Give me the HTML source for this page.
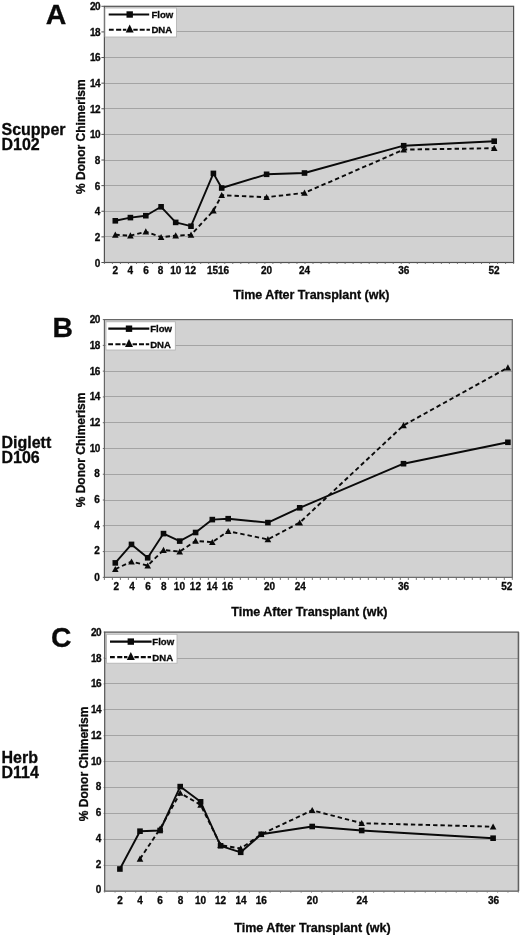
<!DOCTYPE html>
<html><head><meta charset="utf-8"><title>Donor chimerism</title>
<style>
html,body{margin:0;padding:0;background:#fff;}
svg{display:block;}
text{font-family:"Liberation Sans",sans-serif;font-weight:bold;fill:#0a0a0a;stroke:#0a0a0a;stroke-width:0.3px;}
</style></head><body>
<div style="will-change:transform;width:520px;height:935px"><svg width="520" height="935" viewBox="0 0 520 935">
<rect width="520" height="935" fill="#fff"/>
<g>
<rect x="104.4" y="6.3" width="409.20000000000005" height="256.2" fill="#d2d2d2"/>
<line x1="104.4" x2="513.6" y1="31.50" y2="31.50" stroke="#a4a4a4" stroke-width="1"/>
<line x1="104.4" x2="513.6" y1="57.50" y2="57.50" stroke="#a4a4a4" stroke-width="1"/>
<line x1="104.4" x2="513.6" y1="83.50" y2="83.50" stroke="#a4a4a4" stroke-width="1"/>
<line x1="104.4" x2="513.6" y1="108.50" y2="108.50" stroke="#a4a4a4" stroke-width="1"/>
<line x1="104.4" x2="513.6" y1="134.50" y2="134.50" stroke="#a4a4a4" stroke-width="1"/>
<line x1="104.4" x2="513.6" y1="160.50" y2="160.50" stroke="#a4a4a4" stroke-width="1"/>
<line x1="104.4" x2="513.6" y1="185.50" y2="185.50" stroke="#a4a4a4" stroke-width="1"/>
<line x1="104.4" x2="513.6" y1="211.50" y2="211.50" stroke="#a4a4a4" stroke-width="1"/>
<line x1="104.4" x2="513.6" y1="236.50" y2="236.50" stroke="#a4a4a4" stroke-width="1"/>
<rect x="104.4" y="6.3" width="409.20000000000005" height="256.2" fill="none" stroke="#525252" stroke-width="1.2"/>
<line x1="101.4" x2="104.4" y1="6.30" y2="6.30" stroke="#525252" stroke-width="1"/>
<text x="100.2" y="10.20" text-anchor="end" font-size="10" letter-spacing="-0.5">20</text>
<line x1="101.4" x2="104.4" y1="31.92" y2="31.92" stroke="#525252" stroke-width="1"/>
<text x="100.2" y="35.82" text-anchor="end" font-size="10" letter-spacing="-0.5">18</text>
<line x1="101.4" x2="104.4" y1="57.54" y2="57.54" stroke="#525252" stroke-width="1"/>
<text x="100.2" y="61.44" text-anchor="end" font-size="10" letter-spacing="-0.5">16</text>
<line x1="101.4" x2="104.4" y1="83.16" y2="83.16" stroke="#525252" stroke-width="1"/>
<text x="100.2" y="87.06" text-anchor="end" font-size="10" letter-spacing="-0.5">14</text>
<line x1="101.4" x2="104.4" y1="108.78" y2="108.78" stroke="#525252" stroke-width="1"/>
<text x="100.2" y="112.68" text-anchor="end" font-size="10" letter-spacing="-0.5">12</text>
<line x1="101.4" x2="104.4" y1="134.40" y2="134.40" stroke="#525252" stroke-width="1"/>
<text x="100.2" y="138.30" text-anchor="end" font-size="10" letter-spacing="-0.5">10</text>
<line x1="101.4" x2="104.4" y1="160.02" y2="160.02" stroke="#525252" stroke-width="1"/>
<text x="100.2" y="163.92" text-anchor="end" font-size="10">8</text>
<line x1="101.4" x2="104.4" y1="185.64" y2="185.64" stroke="#525252" stroke-width="1"/>
<text x="100.2" y="189.54" text-anchor="end" font-size="10">6</text>
<line x1="101.4" x2="104.4" y1="211.26" y2="211.26" stroke="#525252" stroke-width="1"/>
<text x="100.2" y="215.16" text-anchor="end" font-size="10">4</text>
<line x1="101.4" x2="104.4" y1="236.88" y2="236.88" stroke="#525252" stroke-width="1"/>
<text x="100.2" y="240.78" text-anchor="end" font-size="10">2</text>
<line x1="101.4" x2="104.4" y1="262.50" y2="262.50" stroke="#525252" stroke-width="1"/>
<text x="100.2" y="267.30" text-anchor="end" font-size="10">0</text>
<line x1="104.40" x2="104.40" y1="262.5" y2="264.0" stroke="#6a6a6a" stroke-width="0.9"/>
<line x1="112.42" x2="112.42" y1="262.5" y2="264.0" stroke="#6a6a6a" stroke-width="0.9"/>
<line x1="120.45" x2="120.45" y1="262.5" y2="264.0" stroke="#6a6a6a" stroke-width="0.9"/>
<line x1="128.47" x2="128.47" y1="262.5" y2="264.0" stroke="#6a6a6a" stroke-width="0.9"/>
<line x1="136.49" x2="136.49" y1="262.5" y2="264.0" stroke="#6a6a6a" stroke-width="0.9"/>
<line x1="144.52" x2="144.52" y1="262.5" y2="264.0" stroke="#6a6a6a" stroke-width="0.9"/>
<line x1="152.54" x2="152.54" y1="262.5" y2="264.0" stroke="#6a6a6a" stroke-width="0.9"/>
<line x1="160.56" x2="160.56" y1="262.5" y2="264.0" stroke="#6a6a6a" stroke-width="0.9"/>
<line x1="168.59" x2="168.59" y1="262.5" y2="264.0" stroke="#6a6a6a" stroke-width="0.9"/>
<line x1="176.61" x2="176.61" y1="262.5" y2="264.0" stroke="#6a6a6a" stroke-width="0.9"/>
<line x1="184.64" x2="184.64" y1="262.5" y2="264.0" stroke="#6a6a6a" stroke-width="0.9"/>
<line x1="192.66" x2="192.66" y1="262.5" y2="264.0" stroke="#6a6a6a" stroke-width="0.9"/>
<line x1="200.68" x2="200.68" y1="262.5" y2="264.0" stroke="#6a6a6a" stroke-width="0.9"/>
<line x1="208.71" x2="208.71" y1="262.5" y2="264.0" stroke="#6a6a6a" stroke-width="0.9"/>
<line x1="216.73" x2="216.73" y1="262.5" y2="264.0" stroke="#6a6a6a" stroke-width="0.9"/>
<line x1="224.75" x2="224.75" y1="262.5" y2="264.0" stroke="#6a6a6a" stroke-width="0.9"/>
<line x1="232.78" x2="232.78" y1="262.5" y2="264.0" stroke="#6a6a6a" stroke-width="0.9"/>
<line x1="240.80" x2="240.80" y1="262.5" y2="264.0" stroke="#6a6a6a" stroke-width="0.9"/>
<line x1="248.82" x2="248.82" y1="262.5" y2="264.0" stroke="#6a6a6a" stroke-width="0.9"/>
<line x1="256.85" x2="256.85" y1="262.5" y2="264.0" stroke="#6a6a6a" stroke-width="0.9"/>
<line x1="264.87" x2="264.87" y1="262.5" y2="264.0" stroke="#6a6a6a" stroke-width="0.9"/>
<line x1="272.89" x2="272.89" y1="262.5" y2="264.0" stroke="#6a6a6a" stroke-width="0.9"/>
<line x1="280.92" x2="280.92" y1="262.5" y2="264.0" stroke="#6a6a6a" stroke-width="0.9"/>
<line x1="288.94" x2="288.94" y1="262.5" y2="264.0" stroke="#6a6a6a" stroke-width="0.9"/>
<line x1="296.96" x2="296.96" y1="262.5" y2="264.0" stroke="#6a6a6a" stroke-width="0.9"/>
<line x1="304.99" x2="304.99" y1="262.5" y2="264.0" stroke="#6a6a6a" stroke-width="0.9"/>
<line x1="313.01" x2="313.01" y1="262.5" y2="264.0" stroke="#6a6a6a" stroke-width="0.9"/>
<line x1="321.04" x2="321.04" y1="262.5" y2="264.0" stroke="#6a6a6a" stroke-width="0.9"/>
<line x1="329.06" x2="329.06" y1="262.5" y2="264.0" stroke="#6a6a6a" stroke-width="0.9"/>
<line x1="337.08" x2="337.08" y1="262.5" y2="264.0" stroke="#6a6a6a" stroke-width="0.9"/>
<line x1="345.11" x2="345.11" y1="262.5" y2="264.0" stroke="#6a6a6a" stroke-width="0.9"/>
<line x1="353.13" x2="353.13" y1="262.5" y2="264.0" stroke="#6a6a6a" stroke-width="0.9"/>
<line x1="361.15" x2="361.15" y1="262.5" y2="264.0" stroke="#6a6a6a" stroke-width="0.9"/>
<line x1="369.18" x2="369.18" y1="262.5" y2="264.0" stroke="#6a6a6a" stroke-width="0.9"/>
<line x1="377.20" x2="377.20" y1="262.5" y2="264.0" stroke="#6a6a6a" stroke-width="0.9"/>
<line x1="385.22" x2="385.22" y1="262.5" y2="264.0" stroke="#6a6a6a" stroke-width="0.9"/>
<line x1="393.25" x2="393.25" y1="262.5" y2="264.0" stroke="#6a6a6a" stroke-width="0.9"/>
<line x1="401.27" x2="401.27" y1="262.5" y2="264.0" stroke="#6a6a6a" stroke-width="0.9"/>
<line x1="409.29" x2="409.29" y1="262.5" y2="264.0" stroke="#6a6a6a" stroke-width="0.9"/>
<line x1="417.32" x2="417.32" y1="262.5" y2="264.0" stroke="#6a6a6a" stroke-width="0.9"/>
<line x1="425.34" x2="425.34" y1="262.5" y2="264.0" stroke="#6a6a6a" stroke-width="0.9"/>
<line x1="433.36" x2="433.36" y1="262.5" y2="264.0" stroke="#6a6a6a" stroke-width="0.9"/>
<line x1="441.39" x2="441.39" y1="262.5" y2="264.0" stroke="#6a6a6a" stroke-width="0.9"/>
<line x1="449.41" x2="449.41" y1="262.5" y2="264.0" stroke="#6a6a6a" stroke-width="0.9"/>
<line x1="457.44" x2="457.44" y1="262.5" y2="264.0" stroke="#6a6a6a" stroke-width="0.9"/>
<line x1="465.46" x2="465.46" y1="262.5" y2="264.0" stroke="#6a6a6a" stroke-width="0.9"/>
<line x1="473.48" x2="473.48" y1="262.5" y2="264.0" stroke="#6a6a6a" stroke-width="0.9"/>
<line x1="481.51" x2="481.51" y1="262.5" y2="264.0" stroke="#6a6a6a" stroke-width="0.9"/>
<line x1="489.53" x2="489.53" y1="262.5" y2="264.0" stroke="#6a6a6a" stroke-width="0.9"/>
<line x1="497.55" x2="497.55" y1="262.5" y2="264.0" stroke="#6a6a6a" stroke-width="0.9"/>
<line x1="505.58" x2="505.58" y1="262.5" y2="264.0" stroke="#6a6a6a" stroke-width="0.9"/>
<line x1="513.60" x2="513.60" y1="262.5" y2="264.0" stroke="#6a6a6a" stroke-width="0.9"/>
<text x="115.3" y="273.8" text-anchor="middle" font-size="10">2</text>
<text x="130.2" y="273.8" text-anchor="middle" font-size="10">4</text>
<text x="146" y="273.8" text-anchor="middle" font-size="10">6</text>
<text x="160.5" y="273.8" text-anchor="middle" font-size="10">8</text>
<text x="175.8" y="273.8" text-anchor="middle" font-size="10">10</text>
<text x="190.6" y="273.8" text-anchor="middle" font-size="10">12</text>
<text x="212.6" y="273.8" text-anchor="middle" font-size="10">15</text>
<text x="223.6" y="273.8" text-anchor="middle" font-size="10">16</text>
<text x="266.6" y="273.8" text-anchor="middle" font-size="10">20</text>
<text x="304.5" y="273.8" text-anchor="middle" font-size="10">24</text>
<text x="403.7" y="273.8" text-anchor="middle" font-size="10">36</text>
<text x="494" y="273.8" text-anchor="middle" font-size="10">52</text>
<text transform="translate(85 136.7) rotate(-90)" text-anchor="middle" font-size="12">% Donor Chimerism</text>
<text x="311.4" y="299.3" text-anchor="middle" font-size="12.5">Time After Transplant (wk)</text>
<text x="45.8" y="23.7" font-size="28.5">A</text>
<text x="1.5" y="134.6" font-size="16">Scupper</text>
<text x="1.5" y="149.9" font-size="16">D102</text>
<polyline points="115.3,234.8 130.4,235.7 145.8,231.7 161.1,237.2 175.7,235.7 191.0,234.8 213.4,210.7 221.7,195.2 266.6,197.2 304.5,192.9 403.7,149.6 494.2,148.2" fill="none" stroke="#0a0a0a" stroke-width="1.9" stroke-dasharray="4.4 3"/>
<polyline points="115.3,220.8 130.4,217.6 145.8,215.7 161.1,206.8 175.7,222.4 191.0,226.2 213.4,173.4 221.7,188.0 266.6,174.3 304.5,173.0 403.7,145.7 494.2,141.2" fill="none" stroke="#0a0a0a" stroke-width="1.9" stroke-linejoin="round"/>
<path d="M115.3 231.5L118.6 237.7L112.0 237.7Z" fill="#0a0a0a"/>
<path d="M130.4 232.3L133.7 238.5L127.1 238.5Z" fill="#0a0a0a"/>
<path d="M145.8 228.3L149.1 234.5L142.5 234.5Z" fill="#0a0a0a"/>
<path d="M161.1 233.9L164.4 240.1L157.8 240.1Z" fill="#0a0a0a"/>
<path d="M175.7 232.3L179.0 238.5L172.4 238.5Z" fill="#0a0a0a"/>
<path d="M191.0 231.5L194.3 237.7L187.7 237.7Z" fill="#0a0a0a"/>
<path d="M213.4 207.3L216.7 213.5L210.1 213.5Z" fill="#0a0a0a"/>
<path d="M221.7 191.9L225.0 198.1L218.4 198.1Z" fill="#0a0a0a"/>
<path d="M266.6 193.9L269.9 200.1L263.3 200.1Z" fill="#0a0a0a"/>
<path d="M304.5 189.6L307.8 195.8L301.2 195.8Z" fill="#0a0a0a"/>
<path d="M403.7 146.2L407.0 152.4L400.4 152.4Z" fill="#0a0a0a"/>
<path d="M494.2 144.8L497.5 151.0L490.9 151.0Z" fill="#0a0a0a"/>
<rect x="112.5" y="218.0" width="5.6" height="5.6" fill="#0a0a0a"/>
<rect x="127.6" y="214.8" width="5.6" height="5.6" fill="#0a0a0a"/>
<rect x="143.0" y="212.9" width="5.6" height="5.6" fill="#0a0a0a"/>
<rect x="158.3" y="204.0" width="5.6" height="5.6" fill="#0a0a0a"/>
<rect x="172.9" y="219.6" width="5.6" height="5.6" fill="#0a0a0a"/>
<rect x="188.2" y="223.4" width="5.6" height="5.6" fill="#0a0a0a"/>
<rect x="210.6" y="170.6" width="5.6" height="5.6" fill="#0a0a0a"/>
<rect x="218.9" y="185.2" width="5.6" height="5.6" fill="#0a0a0a"/>
<rect x="263.8" y="171.5" width="5.6" height="5.6" fill="#0a0a0a"/>
<rect x="301.7" y="170.2" width="5.6" height="5.6" fill="#0a0a0a"/>
<rect x="400.9" y="142.9" width="5.6" height="5.6" fill="#0a0a0a"/>
<rect x="491.4" y="138.4" width="5.6" height="5.6" fill="#0a0a0a"/>
<rect x="105.0" y="8.0" width="71.5" height="29.0" fill="#fff" stroke="#b0b0b0" stroke-width="0.8"/>
<line x1="108.7" x2="149.2" y1="14.5" y2="14.5" stroke="#0a0a0a" stroke-width="2.2"/>
<rect x="126.5" y="11.3" width="6.4" height="6.4" fill="#0a0a0a"/>
<path d="M108.9 29.7H113.7M116.1 29.7H121.2M122.9 29.7H126.3M133.3 29.7H137.7M139.7 29.7H144.7M146.5 29.7H149.9" stroke="#0a0a0a" stroke-width="2.1" fill="none"/>
<path d="M129.7 24.5L133.7 32.5L125.7 32.5Z" fill="#0a0a0a"/>
<text x="151.4" y="18.0" font-size="9.6">Flow</text>
<text x="151.4" y="33.2" font-size="9.6">DNA</text>
</g>
<g>
<rect x="104.4" y="319.6" width="407.9" height="257.75" fill="#d2d2d2"/>
<line x1="104.4" x2="512.3" y1="345.50" y2="345.50" stroke="#a4a4a4" stroke-width="1"/>
<line x1="104.4" x2="512.3" y1="371.50" y2="371.50" stroke="#a4a4a4" stroke-width="1"/>
<line x1="104.4" x2="512.3" y1="396.50" y2="396.50" stroke="#a4a4a4" stroke-width="1"/>
<line x1="104.4" x2="512.3" y1="422.50" y2="422.50" stroke="#a4a4a4" stroke-width="1"/>
<line x1="104.4" x2="512.3" y1="448.50" y2="448.50" stroke="#a4a4a4" stroke-width="1"/>
<line x1="104.4" x2="512.3" y1="474.50" y2="474.50" stroke="#a4a4a4" stroke-width="1"/>
<line x1="104.4" x2="512.3" y1="500.50" y2="500.50" stroke="#a4a4a4" stroke-width="1"/>
<line x1="104.4" x2="512.3" y1="525.50" y2="525.50" stroke="#a4a4a4" stroke-width="1"/>
<line x1="104.4" x2="512.3" y1="551.50" y2="551.50" stroke="#a4a4a4" stroke-width="1"/>
<rect x="104.4" y="319.6" width="407.9" height="257.75" fill="none" stroke="#676767" stroke-width="1.2"/>
<line x1="102.80000000000001" x2="104.4" y1="319.60" y2="319.60" stroke="#676767" stroke-width="1"/>
<text x="99.9" y="323.20" text-anchor="end" font-size="10" letter-spacing="-0.5">20</text>
<line x1="102.80000000000001" x2="104.4" y1="345.38" y2="345.38" stroke="#676767" stroke-width="1"/>
<text x="99.9" y="348.88" text-anchor="end" font-size="10" letter-spacing="-0.5">18</text>
<line x1="102.80000000000001" x2="104.4" y1="371.15" y2="371.15" stroke="#676767" stroke-width="1"/>
<text x="99.9" y="374.55" text-anchor="end" font-size="10" letter-spacing="-0.5">16</text>
<line x1="102.80000000000001" x2="104.4" y1="396.93" y2="396.93" stroke="#676767" stroke-width="1"/>
<text x="99.9" y="400.23" text-anchor="end" font-size="10" letter-spacing="-0.5">14</text>
<line x1="102.80000000000001" x2="104.4" y1="422.70" y2="422.70" stroke="#676767" stroke-width="1"/>
<text x="99.9" y="425.90" text-anchor="end" font-size="10" letter-spacing="-0.5">12</text>
<line x1="102.80000000000001" x2="104.4" y1="448.48" y2="448.48" stroke="#676767" stroke-width="1"/>
<text x="99.9" y="451.58" text-anchor="end" font-size="10" letter-spacing="-0.5">10</text>
<line x1="102.80000000000001" x2="104.4" y1="474.25" y2="474.25" stroke="#676767" stroke-width="1"/>
<text x="99.9" y="477.25" text-anchor="end" font-size="10">8</text>
<line x1="102.80000000000001" x2="104.4" y1="500.02" y2="500.02" stroke="#676767" stroke-width="1"/>
<text x="99.9" y="502.93" text-anchor="end" font-size="10">6</text>
<line x1="102.80000000000001" x2="104.4" y1="525.80" y2="525.80" stroke="#676767" stroke-width="1"/>
<text x="99.9" y="528.60" text-anchor="end" font-size="10">4</text>
<line x1="102.80000000000001" x2="104.4" y1="551.58" y2="551.58" stroke="#676767" stroke-width="1"/>
<text x="99.9" y="554.28" text-anchor="end" font-size="10">2</text>
<line x1="102.80000000000001" x2="104.4" y1="577.35" y2="577.35" stroke="#676767" stroke-width="1"/>
<text x="99.9" y="580.95" text-anchor="end" font-size="10">0</text>
<line x1="104.40" x2="104.40" y1="577.35" y2="579.95" stroke="#676767" stroke-width="0.9"/>
<line x1="112.40" x2="112.40" y1="577.35" y2="579.95" stroke="#676767" stroke-width="0.9"/>
<line x1="120.40" x2="120.40" y1="577.35" y2="579.95" stroke="#676767" stroke-width="0.9"/>
<line x1="128.39" x2="128.39" y1="577.35" y2="579.95" stroke="#676767" stroke-width="0.9"/>
<line x1="136.39" x2="136.39" y1="577.35" y2="579.95" stroke="#676767" stroke-width="0.9"/>
<line x1="144.39" x2="144.39" y1="577.35" y2="579.95" stroke="#676767" stroke-width="0.9"/>
<line x1="152.39" x2="152.39" y1="577.35" y2="579.95" stroke="#676767" stroke-width="0.9"/>
<line x1="160.39" x2="160.39" y1="577.35" y2="579.95" stroke="#676767" stroke-width="0.9"/>
<line x1="168.38" x2="168.38" y1="577.35" y2="579.95" stroke="#676767" stroke-width="0.9"/>
<line x1="176.38" x2="176.38" y1="577.35" y2="579.95" stroke="#676767" stroke-width="0.9"/>
<line x1="184.38" x2="184.38" y1="577.35" y2="579.95" stroke="#676767" stroke-width="0.9"/>
<line x1="192.38" x2="192.38" y1="577.35" y2="579.95" stroke="#676767" stroke-width="0.9"/>
<line x1="200.38" x2="200.38" y1="577.35" y2="579.95" stroke="#676767" stroke-width="0.9"/>
<line x1="208.37" x2="208.37" y1="577.35" y2="579.95" stroke="#676767" stroke-width="0.9"/>
<line x1="216.37" x2="216.37" y1="577.35" y2="579.95" stroke="#676767" stroke-width="0.9"/>
<line x1="224.37" x2="224.37" y1="577.35" y2="579.95" stroke="#676767" stroke-width="0.9"/>
<line x1="232.37" x2="232.37" y1="577.35" y2="579.95" stroke="#676767" stroke-width="0.9"/>
<line x1="240.37" x2="240.37" y1="577.35" y2="579.95" stroke="#676767" stroke-width="0.9"/>
<line x1="248.36" x2="248.36" y1="577.35" y2="579.95" stroke="#676767" stroke-width="0.9"/>
<line x1="256.36" x2="256.36" y1="577.35" y2="579.95" stroke="#676767" stroke-width="0.9"/>
<line x1="264.36" x2="264.36" y1="577.35" y2="579.95" stroke="#676767" stroke-width="0.9"/>
<line x1="272.36" x2="272.36" y1="577.35" y2="579.95" stroke="#676767" stroke-width="0.9"/>
<line x1="280.36" x2="280.36" y1="577.35" y2="579.95" stroke="#676767" stroke-width="0.9"/>
<line x1="288.35" x2="288.35" y1="577.35" y2="579.95" stroke="#676767" stroke-width="0.9"/>
<line x1="296.35" x2="296.35" y1="577.35" y2="579.95" stroke="#676767" stroke-width="0.9"/>
<line x1="304.35" x2="304.35" y1="577.35" y2="579.95" stroke="#676767" stroke-width="0.9"/>
<line x1="312.35" x2="312.35" y1="577.35" y2="579.95" stroke="#676767" stroke-width="0.9"/>
<line x1="320.35" x2="320.35" y1="577.35" y2="579.95" stroke="#676767" stroke-width="0.9"/>
<line x1="328.35" x2="328.35" y1="577.35" y2="579.95" stroke="#676767" stroke-width="0.9"/>
<line x1="336.34" x2="336.34" y1="577.35" y2="579.95" stroke="#676767" stroke-width="0.9"/>
<line x1="344.34" x2="344.34" y1="577.35" y2="579.95" stroke="#676767" stroke-width="0.9"/>
<line x1="352.34" x2="352.34" y1="577.35" y2="579.95" stroke="#676767" stroke-width="0.9"/>
<line x1="360.34" x2="360.34" y1="577.35" y2="579.95" stroke="#676767" stroke-width="0.9"/>
<line x1="368.34" x2="368.34" y1="577.35" y2="579.95" stroke="#676767" stroke-width="0.9"/>
<line x1="376.33" x2="376.33" y1="577.35" y2="579.95" stroke="#676767" stroke-width="0.9"/>
<line x1="384.33" x2="384.33" y1="577.35" y2="579.95" stroke="#676767" stroke-width="0.9"/>
<line x1="392.33" x2="392.33" y1="577.35" y2="579.95" stroke="#676767" stroke-width="0.9"/>
<line x1="400.33" x2="400.33" y1="577.35" y2="579.95" stroke="#676767" stroke-width="0.9"/>
<line x1="408.33" x2="408.33" y1="577.35" y2="579.95" stroke="#676767" stroke-width="0.9"/>
<line x1="416.32" x2="416.32" y1="577.35" y2="579.95" stroke="#676767" stroke-width="0.9"/>
<line x1="424.32" x2="424.32" y1="577.35" y2="579.95" stroke="#676767" stroke-width="0.9"/>
<line x1="432.32" x2="432.32" y1="577.35" y2="579.95" stroke="#676767" stroke-width="0.9"/>
<line x1="440.32" x2="440.32" y1="577.35" y2="579.95" stroke="#676767" stroke-width="0.9"/>
<line x1="448.32" x2="448.32" y1="577.35" y2="579.95" stroke="#676767" stroke-width="0.9"/>
<line x1="456.31" x2="456.31" y1="577.35" y2="579.95" stroke="#676767" stroke-width="0.9"/>
<line x1="464.31" x2="464.31" y1="577.35" y2="579.95" stroke="#676767" stroke-width="0.9"/>
<line x1="472.31" x2="472.31" y1="577.35" y2="579.95" stroke="#676767" stroke-width="0.9"/>
<line x1="480.31" x2="480.31" y1="577.35" y2="579.95" stroke="#676767" stroke-width="0.9"/>
<line x1="488.31" x2="488.31" y1="577.35" y2="579.95" stroke="#676767" stroke-width="0.9"/>
<line x1="496.30" x2="496.30" y1="577.35" y2="579.95" stroke="#676767" stroke-width="0.9"/>
<line x1="504.30" x2="504.30" y1="577.35" y2="579.95" stroke="#676767" stroke-width="0.9"/>
<line x1="512.30" x2="512.30" y1="577.35" y2="579.95" stroke="#676767" stroke-width="0.9"/>
<text x="116.2" y="590.1" text-anchor="middle" font-size="10">2</text>
<text x="132" y="590.1" text-anchor="middle" font-size="10">4</text>
<text x="148" y="590.1" text-anchor="middle" font-size="10">6</text>
<text x="163.8" y="590.1" text-anchor="middle" font-size="10">8</text>
<text x="179.4" y="590.1" text-anchor="middle" font-size="10">10</text>
<text x="195.4" y="590.1" text-anchor="middle" font-size="10">12</text>
<text x="212" y="590.1" text-anchor="middle" font-size="10">14</text>
<text x="227.6" y="590.1" text-anchor="middle" font-size="10">16</text>
<text x="269.6" y="590.1" text-anchor="middle" font-size="10">20</text>
<text x="300.2" y="590.1" text-anchor="middle" font-size="10">24</text>
<text x="403.5" y="590.1" text-anchor="middle" font-size="10">36</text>
<text x="506.8" y="590.1" text-anchor="middle" font-size="10">52</text>
<text transform="translate(84.5 450.0) rotate(-90)" text-anchor="middle" font-size="12">% Donor Chimerism</text>
<text x="309.4" y="615.6" text-anchor="middle" font-size="12.5">Time After Transplant (wk)</text>
<text x="52.5" y="336.9" font-size="28.3">B</text>
<text x="1.5" y="447.5" font-size="16">Diglett</text>
<text x="1.5" y="462.8" font-size="16">D106</text>
<polyline points="115.3,569.1 131.5,561.6 147.7,565.6 163.5,550.0 179.7,551.6 195.6,540.9 212.3,542.2 228.2,531.2 267.9,539.4 299.7,522.6 403.5,425.4 507.9,367.6" fill="none" stroke="#0a0a0a" stroke-width="1.9" stroke-dasharray="4.4 3"/>
<polyline points="115.3,562.9 131.5,544.4 147.7,557.8 163.5,533.6 179.7,541.1 195.6,532.5 212.3,519.6 228.2,518.7 267.9,522.6 299.7,507.8 403.5,463.7 507.9,442.3" fill="none" stroke="#0a0a0a" stroke-width="1.9" stroke-linejoin="round"/>
<path d="M115.3 565.9L118.6 572.0L112.0 572.0Z" fill="#0a0a0a"/>
<path d="M131.5 558.4L134.8 564.5L128.2 564.5Z" fill="#0a0a0a"/>
<path d="M147.7 562.4L151.0 568.5L144.4 568.5Z" fill="#0a0a0a"/>
<path d="M163.5 546.8L166.8 552.9L160.2 552.9Z" fill="#0a0a0a"/>
<path d="M179.7 548.4L183.0 554.5L176.4 554.5Z" fill="#0a0a0a"/>
<path d="M195.6 537.6L198.9 543.7L192.3 543.7Z" fill="#0a0a0a"/>
<path d="M212.3 539.0L215.6 545.1L209.0 545.1Z" fill="#0a0a0a"/>
<path d="M228.2 528.0L231.5 534.1L224.9 534.1Z" fill="#0a0a0a"/>
<path d="M267.9 536.1L271.2 542.2L264.6 542.2Z" fill="#0a0a0a"/>
<path d="M299.7 519.4L303.0 525.5L296.4 525.5Z" fill="#0a0a0a"/>
<path d="M403.5 422.1L406.8 428.2L400.2 428.2Z" fill="#0a0a0a"/>
<path d="M507.9 364.3L511.2 370.5L504.6 370.5Z" fill="#0a0a0a"/>
<rect x="112.5" y="560.1" width="5.6" height="5.6" fill="#0a0a0a"/>
<rect x="128.7" y="541.6" width="5.6" height="5.6" fill="#0a0a0a"/>
<rect x="144.9" y="555.0" width="5.6" height="5.6" fill="#0a0a0a"/>
<rect x="160.7" y="530.8" width="5.6" height="5.6" fill="#0a0a0a"/>
<rect x="176.9" y="538.3" width="5.6" height="5.6" fill="#0a0a0a"/>
<rect x="192.8" y="529.7" width="5.6" height="5.6" fill="#0a0a0a"/>
<rect x="209.5" y="516.8" width="5.6" height="5.6" fill="#0a0a0a"/>
<rect x="225.4" y="515.9" width="5.6" height="5.6" fill="#0a0a0a"/>
<rect x="265.1" y="519.8" width="5.6" height="5.6" fill="#0a0a0a"/>
<rect x="296.9" y="505.0" width="5.6" height="5.6" fill="#0a0a0a"/>
<rect x="400.7" y="460.9" width="5.6" height="5.6" fill="#0a0a0a"/>
<rect x="505.1" y="439.5" width="5.6" height="5.6" fill="#0a0a0a"/>
<rect x="106.0" y="321.8" width="69.3" height="28.2" fill="#fff" stroke="#b0b0b0" stroke-width="0.8"/>
<line x1="108.3" x2="149.3" y1="328.7" y2="328.7" stroke="#0a0a0a" stroke-width="2.2"/>
<rect x="125.8" y="325.5" width="6.4" height="6.4" fill="#0a0a0a"/>
<path d="M108.2 344.3H113.0M115.4 344.3H120.5M122.2 344.3H125.6M132.6 344.3H137.0M139.0 344.3H144.0M145.8 344.3H149.2" stroke="#0a0a0a" stroke-width="2.1" fill="none"/>
<path d="M129.0 339.1L133.0 347.1L125.0 347.1Z" fill="#0a0a0a"/>
<text x="150.2" y="332.2" font-size="9.6">Flow</text>
<text x="150.2" y="347.8" font-size="9.6">DNA</text>
</g>
<g>
<rect x="104.7" y="632.1" width="413.59999999999997" height="259.04999999999995" fill="#d2d2d2"/>
<line x1="104.7" x2="518.3" y1="658.50" y2="658.50" stroke="#a4a4a4" stroke-width="1"/>
<line x1="104.7" x2="518.3" y1="683.50" y2="683.50" stroke="#a4a4a4" stroke-width="1"/>
<line x1="104.7" x2="518.3" y1="709.50" y2="709.50" stroke="#a4a4a4" stroke-width="1"/>
<line x1="104.7" x2="518.3" y1="735.50" y2="735.50" stroke="#a4a4a4" stroke-width="1"/>
<line x1="104.7" x2="518.3" y1="761.50" y2="761.50" stroke="#a4a4a4" stroke-width="1"/>
<line x1="104.7" x2="518.3" y1="787.50" y2="787.50" stroke="#a4a4a4" stroke-width="1"/>
<line x1="104.7" x2="518.3" y1="813.50" y2="813.50" stroke="#a4a4a4" stroke-width="1"/>
<line x1="104.7" x2="518.3" y1="839.50" y2="839.50" stroke="#a4a4a4" stroke-width="1"/>
<line x1="104.7" x2="518.3" y1="865.50" y2="865.50" stroke="#a4a4a4" stroke-width="1"/>
<rect x="518.3" y="632.1" width="1.7000000000000455" height="259.04999999999995" fill="#d9d9d9"/>
<rect x="104.7" y="632.1" width="413.59999999999997" height="259.04999999999995" fill="none" stroke="#545454" stroke-width="1.2"/>
<line x1="103.7" x2="104.7" y1="632.10" y2="632.10" stroke="#545454" stroke-width="1"/>
<text x="101.2" y="635.90" text-anchor="end" font-size="10" letter-spacing="-0.5">20</text>
<line x1="103.7" x2="104.7" y1="658.00" y2="658.00" stroke="#545454" stroke-width="1"/>
<text x="101.2" y="661.64" text-anchor="end" font-size="10" letter-spacing="-0.5">18</text>
<line x1="103.7" x2="104.7" y1="683.91" y2="683.91" stroke="#545454" stroke-width="1"/>
<text x="101.2" y="687.39" text-anchor="end" font-size="10" letter-spacing="-0.5">16</text>
<line x1="103.7" x2="104.7" y1="709.82" y2="709.82" stroke="#545454" stroke-width="1"/>
<text x="101.2" y="713.14" text-anchor="end" font-size="10" letter-spacing="-0.5">14</text>
<line x1="103.7" x2="104.7" y1="735.72" y2="735.72" stroke="#545454" stroke-width="1"/>
<text x="101.2" y="738.88" text-anchor="end" font-size="10" letter-spacing="-0.5">12</text>
<line x1="103.7" x2="104.7" y1="761.62" y2="761.62" stroke="#545454" stroke-width="1"/>
<text x="101.2" y="764.62" text-anchor="end" font-size="10" letter-spacing="-0.5">10</text>
<line x1="103.7" x2="104.7" y1="787.53" y2="787.53" stroke="#545454" stroke-width="1"/>
<text x="101.2" y="790.37" text-anchor="end" font-size="10">8</text>
<line x1="103.7" x2="104.7" y1="813.43" y2="813.43" stroke="#545454" stroke-width="1"/>
<text x="101.2" y="816.12" text-anchor="end" font-size="10">6</text>
<line x1="103.7" x2="104.7" y1="839.34" y2="839.34" stroke="#545454" stroke-width="1"/>
<text x="101.2" y="841.86" text-anchor="end" font-size="10">4</text>
<line x1="103.7" x2="104.7" y1="865.25" y2="865.25" stroke="#545454" stroke-width="1"/>
<text x="101.2" y="867.61" text-anchor="end" font-size="10">2</text>
<line x1="103.7" x2="104.7" y1="891.15" y2="891.15" stroke="#545454" stroke-width="1"/>
<text x="101.2" y="893.35" text-anchor="end" font-size="10">0</text>
<line x1="104.70" x2="104.70" y1="891.15" y2="892.65" stroke="#777" stroke-width="0.9"/>
<line x1="115.04" x2="115.04" y1="891.15" y2="892.65" stroke="#777" stroke-width="0.9"/>
<line x1="125.38" x2="125.38" y1="891.15" y2="892.65" stroke="#777" stroke-width="0.9"/>
<line x1="135.72" x2="135.72" y1="891.15" y2="892.65" stroke="#777" stroke-width="0.9"/>
<line x1="146.06" x2="146.06" y1="891.15" y2="892.65" stroke="#777" stroke-width="0.9"/>
<line x1="156.40" x2="156.40" y1="891.15" y2="892.65" stroke="#777" stroke-width="0.9"/>
<line x1="166.74" x2="166.74" y1="891.15" y2="892.65" stroke="#777" stroke-width="0.9"/>
<line x1="177.08" x2="177.08" y1="891.15" y2="892.65" stroke="#777" stroke-width="0.9"/>
<line x1="187.42" x2="187.42" y1="891.15" y2="892.65" stroke="#777" stroke-width="0.9"/>
<line x1="197.76" x2="197.76" y1="891.15" y2="892.65" stroke="#777" stroke-width="0.9"/>
<line x1="208.10" x2="208.10" y1="891.15" y2="892.65" stroke="#777" stroke-width="0.9"/>
<line x1="218.44" x2="218.44" y1="891.15" y2="892.65" stroke="#777" stroke-width="0.9"/>
<line x1="228.78" x2="228.78" y1="891.15" y2="892.65" stroke="#777" stroke-width="0.9"/>
<line x1="239.12" x2="239.12" y1="891.15" y2="892.65" stroke="#777" stroke-width="0.9"/>
<line x1="249.46" x2="249.46" y1="891.15" y2="892.65" stroke="#777" stroke-width="0.9"/>
<line x1="259.80" x2="259.80" y1="891.15" y2="892.65" stroke="#777" stroke-width="0.9"/>
<line x1="270.14" x2="270.14" y1="891.15" y2="892.65" stroke="#777" stroke-width="0.9"/>
<line x1="280.48" x2="280.48" y1="891.15" y2="892.65" stroke="#777" stroke-width="0.9"/>
<line x1="290.82" x2="290.82" y1="891.15" y2="892.65" stroke="#777" stroke-width="0.9"/>
<line x1="301.16" x2="301.16" y1="891.15" y2="892.65" stroke="#777" stroke-width="0.9"/>
<line x1="311.50" x2="311.50" y1="891.15" y2="892.65" stroke="#777" stroke-width="0.9"/>
<line x1="321.84" x2="321.84" y1="891.15" y2="892.65" stroke="#777" stroke-width="0.9"/>
<line x1="332.18" x2="332.18" y1="891.15" y2="892.65" stroke="#777" stroke-width="0.9"/>
<line x1="342.52" x2="342.52" y1="891.15" y2="892.65" stroke="#777" stroke-width="0.9"/>
<line x1="352.86" x2="352.86" y1="891.15" y2="892.65" stroke="#777" stroke-width="0.9"/>
<line x1="363.20" x2="363.20" y1="891.15" y2="892.65" stroke="#777" stroke-width="0.9"/>
<line x1="373.54" x2="373.54" y1="891.15" y2="892.65" stroke="#777" stroke-width="0.9"/>
<line x1="383.88" x2="383.88" y1="891.15" y2="892.65" stroke="#777" stroke-width="0.9"/>
<line x1="394.22" x2="394.22" y1="891.15" y2="892.65" stroke="#777" stroke-width="0.9"/>
<line x1="404.56" x2="404.56" y1="891.15" y2="892.65" stroke="#777" stroke-width="0.9"/>
<line x1="414.90" x2="414.90" y1="891.15" y2="892.65" stroke="#777" stroke-width="0.9"/>
<line x1="425.24" x2="425.24" y1="891.15" y2="892.65" stroke="#777" stroke-width="0.9"/>
<line x1="435.58" x2="435.58" y1="891.15" y2="892.65" stroke="#777" stroke-width="0.9"/>
<line x1="445.92" x2="445.92" y1="891.15" y2="892.65" stroke="#777" stroke-width="0.9"/>
<line x1="456.26" x2="456.26" y1="891.15" y2="892.65" stroke="#777" stroke-width="0.9"/>
<line x1="466.60" x2="466.60" y1="891.15" y2="892.65" stroke="#777" stroke-width="0.9"/>
<line x1="476.94" x2="476.94" y1="891.15" y2="892.65" stroke="#777" stroke-width="0.9"/>
<line x1="487.28" x2="487.28" y1="891.15" y2="892.65" stroke="#777" stroke-width="0.9"/>
<line x1="497.62" x2="497.62" y1="891.15" y2="892.65" stroke="#777" stroke-width="0.9"/>
<line x1="507.96" x2="507.96" y1="891.15" y2="892.65" stroke="#777" stroke-width="0.9"/>
<line x1="518.30" x2="518.30" y1="891.15" y2="892.65" stroke="#777" stroke-width="0.9"/>
<text x="120" y="903.8" text-anchor="middle" font-size="10">2</text>
<text x="140" y="903.8" text-anchor="middle" font-size="10">4</text>
<text x="160" y="903.8" text-anchor="middle" font-size="10">6</text>
<text x="180.5" y="903.8" text-anchor="middle" font-size="10">8</text>
<text x="200.5" y="903.8" text-anchor="middle" font-size="10">10</text>
<text x="220.5" y="903.8" text-anchor="middle" font-size="10">12</text>
<text x="241" y="903.8" text-anchor="middle" font-size="10">14</text>
<text x="261.2" y="903.8" text-anchor="middle" font-size="10">16</text>
<text x="312.4" y="903.8" text-anchor="middle" font-size="10">20</text>
<text x="362" y="903.8" text-anchor="middle" font-size="10">24</text>
<text x="493.5" y="903.8" text-anchor="middle" font-size="10">36</text>
<text transform="translate(88.2 763.9) rotate(-90)" text-anchor="middle" font-size="12">% Donor Chimerism</text>
<text x="312.5" y="932.3" text-anchor="middle" font-size="12.5">Time After Transplant (wk)</text>
<text x="51.0" y="647.0" font-size="28.3">C</text>
<text x="1.5" y="762.5" font-size="16">Herb</text>
<text x="1.5" y="777.8" font-size="16">D114</text>
<polyline points="140.0,858.9 160.1,828.8 180.2,793.0 200.6,804.9 220.6,845.1 240.7,848.5 261.2,834.3 312.2,810.3 361.7,823.2 493.1,826.7" fill="none" stroke="#0a0a0a" stroke-width="1.9" stroke-dasharray="4.4 3"/>
<polyline points="119.9,869.0 140.0,831.2 160.1,830.5 180.2,786.6 200.6,801.8 220.6,845.8 240.7,852.3 261.2,834.3 312.2,826.5 361.7,830.5 493.1,838.2" fill="none" stroke="#0a0a0a" stroke-width="1.9" stroke-linejoin="round"/>
<path d="M140.0 855.6L143.3 861.7L136.7 861.7Z" fill="#0a0a0a"/>
<path d="M160.1 825.5L163.4 831.6L156.8 831.6Z" fill="#0a0a0a"/>
<path d="M180.2 789.7L183.5 795.8L176.9 795.8Z" fill="#0a0a0a"/>
<path d="M200.6 801.6L203.9 807.7L197.3 807.7Z" fill="#0a0a0a"/>
<path d="M220.6 841.8L223.9 847.9L217.3 847.9Z" fill="#0a0a0a"/>
<path d="M240.7 845.2L244.0 851.3L237.4 851.3Z" fill="#0a0a0a"/>
<path d="M261.2 831.0L264.5 837.1L257.9 837.1Z" fill="#0a0a0a"/>
<path d="M312.2 807.0L315.5 813.1L308.9 813.1Z" fill="#0a0a0a"/>
<path d="M361.7 819.9L365.0 826.0L358.4 826.0Z" fill="#0a0a0a"/>
<path d="M493.1 823.4L496.4 829.5L489.8 829.5Z" fill="#0a0a0a"/>
<rect x="117.1" y="866.2" width="5.6" height="5.6" fill="#0a0a0a"/>
<rect x="137.2" y="828.4" width="5.6" height="5.6" fill="#0a0a0a"/>
<rect x="157.3" y="827.7" width="5.6" height="5.6" fill="#0a0a0a"/>
<rect x="177.4" y="783.8" width="5.6" height="5.6" fill="#0a0a0a"/>
<rect x="197.8" y="799.0" width="5.6" height="5.6" fill="#0a0a0a"/>
<rect x="217.8" y="843.0" width="5.6" height="5.6" fill="#0a0a0a"/>
<rect x="237.9" y="849.5" width="5.6" height="5.6" fill="#0a0a0a"/>
<rect x="258.4" y="831.5" width="5.6" height="5.6" fill="#0a0a0a"/>
<rect x="309.4" y="823.7" width="5.6" height="5.6" fill="#0a0a0a"/>
<rect x="358.9" y="827.7" width="5.6" height="5.6" fill="#0a0a0a"/>
<rect x="490.3" y="835.4" width="5.6" height="5.6" fill="#0a0a0a"/>
<rect x="106.6" y="634.3" width="70.4" height="28.9" fill="#fff" stroke="#b0b0b0" stroke-width="0.8"/>
<line x1="110.0" x2="151.6" y1="641.6" y2="641.6" stroke="#0a0a0a" stroke-width="2.2"/>
<rect x="127.6" y="638.4" width="6.4" height="6.4" fill="#0a0a0a"/>
<path d="M110.0 657.1H114.8M117.2 657.1H122.3M124.0 657.1H127.4M134.4 657.1H138.8M140.8 657.1H145.8M147.6 657.1H151.0" stroke="#0a0a0a" stroke-width="2.1" fill="none"/>
<path d="M130.8 651.9L134.8 659.9L126.8 659.9Z" fill="#0a0a0a"/>
<text x="152.3" y="645.1" font-size="9.6">Flow</text>
<text x="152.3" y="660.6" font-size="9.6">DNA</text>
</g>
</svg></div>
</body></html>
